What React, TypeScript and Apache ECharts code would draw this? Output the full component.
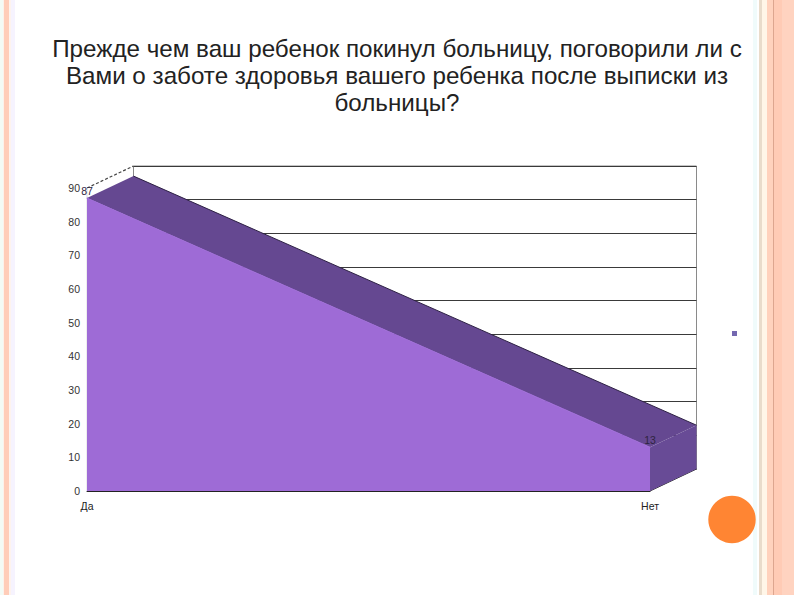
import React, { useEffect, useRef } from "react";
import * as echarts from "echarts";

const titleLines = [
  "Прежде чем ваш ребенок покинул больницу, поговорили ли с",
  "Вами о заботе здоровья вашего ребенка после выписки из",
  "больницы?",
];
const categories = ["Да", "Нет"];
const values = [87, 13];
const axisMax = 90;
const axisStep = 10;

const W = 794;
const H = 595;
const front = { left: 87, right: 650, top: 188, bottom: 491 };
const depth = { x: 46.5, y: -22 };

const stripes: [number, number, string][] = [
  [0, 3, "#F3FBF6"],
  [3, 4, "#FDF1EA"],
  [4, 9, "#FFCDB9"],
  [9, 11, "#FDF3EE"],
  [11, 15, "#F6F3FE"],
  [753, 757, "#F0FBFB"],
  [759, 762, "#E9DCCB"],
  [762, 767, "#FFF6E8"],
  [767, 773, "#FFD2BD"],
  [773, 774, "#DDA68F"],
  [774, 782, "#FFCBB5"],
  [782, 794, "#FFD3C0"],
];

const fontFamily = "'Liberation Sans', Arial, sans-serif";

function baseAxis(gridIndex: number, show: boolean) {
  return {
    gridIndex,
    type: "category" as const,
    data: categories,
    boundaryGap: false,
    axisTick: { show: false },
    axisLine: show ? { lineStyle: { color: "#222", width: 1 } } : { show: false },
    axisLabel: show ? { color: "#222", fontSize: 10.5, fontFamily, margin: 9 } : { show: false },
    splitLine: { show: false },
  };
}

export default function App() {
  const ref = useRef<HTMLDivElement>(null);
  useEffect(() => {
    const chart = echarts.init(ref.current!, null, { renderer: "svg", width: W, height: H });
    const bandSegments = values.slice(0, -1).map((_, i) => [i, i + 1]);
    chart.setOption({
      animation: false,
      backgroundColor: "#fff",
      title: {
        text: titleLines.join("\n"),
        left: 397,
        top: 35,
        textAlign: "center",
        padding: 0,
        textStyle: {
          color: "#222",
          fontSize: 24.2,
          fontWeight: "normal",
          fontFamily,
          lineHeight: 27,
        },
      },
      grid: [
        {
          left: front.left,
          top: front.top,
          width: front.right - front.left,
          height: front.bottom - front.top,
        },
        {
          left: front.left + depth.x,
          top: front.top + depth.y,
          width: front.right - front.left,
          height: front.bottom - front.top,
          show: true,
          borderColor: "#8a8a8a",
          borderWidth: 1,
          backgroundColor: "transparent",
        },
      ],
      xAxis: [baseAxis(0, true), baseAxis(1, false)],
      yAxis: [
        {
          gridIndex: 0,
          type: "value",
          min: 0,
          max: axisMax,
          interval: axisStep,
          axisLine: { show: false },
          axisTick: { show: false },
          axisLabel: { color: "#333", fontSize: 10.5, fontFamily, margin: 7 },
          splitLine: { show: false },
        },
        {
          gridIndex: 1,
          type: "value",
          min: 0,
          max: axisMax,
          interval: axisStep,
          axisLine: { show: false },
          axisTick: { show: false },
          axisLabel: { show: false },
          splitLine: { show: true, lineStyle: { color: "#3a3a3a", width: 1 } },
        },
      ],
      series: [
        {
          type: "custom",
          xAxisIndex: 0,
          yAxisIndex: 0,
          z: 3,
          silent: true,
          data: [[0]],
          renderItem: (_: any, api: any) => {
            const a = api.coord([0, axisMax]);
            const b = api.coord([0, 0]);
            const c = api.coord([1, 0]);
            return {
              type: "group",
              children: [
                {
                  type: "line",
                  shape: { x1: a[0], y1: a[1], x2: a[0] + depth.x, y2: a[1] + depth.y },
                  style: { stroke: "#444", lineWidth: 1.2, lineDash: [3, 2] },
                },
                {
                  type: "line",
                  shape: { x1: c[0], y1: c[1], x2: c[0] + depth.x, y2: c[1] + depth.y },
                  style: { stroke: "#222", lineWidth: 1 },
                },
                {
                  type: "line",
                  shape: { x1: b[0], y1: b[1], x2: b[0], y2: a[1] },
                  style: { stroke: "#ddd", lineWidth: 1 },
                },
              ],
            };
          },
        },
        {
          type: "custom",
          xAxisIndex: 0,
          yAxisIndex: 0,
          z: 4,
          silent: true,
          data: bandSegments,
          encode: { x: [0, 1] },
          renderItem: (_: any, api: any) => {
            const i0 = api.value(0);
            const i1 = api.value(1);
            const p0 = api.coord([i0, values[i0]]);
            const p1 = api.coord([i1, values[i1]]);
            const base = api.coord([i1, 0]);
            const shift = (p: number[]) => [p[0] + depth.x, p[1] + depth.y];
            return {
              type: "group",
              children: [
                {
                  type: "polygon",
                  shape: { points: [p1, shift(p1), shift(base), base] },
                  style: { fill: "#684B96" },
                },
                {
                  type: "polygon",
                  shape: { points: [p0, shift(p0), shift(p1), p1] },
                  style: { fill: "#654891" },
                },
                {
                  type: "line",
                  shape: {
                    x1: shift(p0)[0],
                    y1: shift(p0)[1],
                    x2: shift(p1)[0],
                    y2: shift(p1)[1],
                  },
                  style: { stroke: "#2e2145", lineWidth: 1 },
                },
              ],
            };
          },
        },
        {
          type: "line",
          xAxisIndex: 0,
          yAxisIndex: 0,
          z: 5,
          data: values,
          showSymbol: true,
          symbol: "circle",
          symbolSize: 1,
          lineStyle: { color: "#9E6BD6", width: 1 },
          itemStyle: { color: "#9E6BD6" },
          areaStyle: { color: "#9E6BD6", opacity: 1 },
          label: {
            show: true,
            position: "top",
            distance: 1,
            color: "#2f2440",
            fontSize: 10.5,
            fontFamily,
          },
        },
      ],
      graphic: [
        ...stripes.map(([x0, x1, fill]) => ({
          type: "rect",
          silent: true,
          shape: { x: x0, y: 0, width: x1 - x0, height: H },
          style: { fill },
        })),
        {
          type: "circle",
          shape: { cx: 732, cy: 519.5, r: 23.7 },
          style: { fill: "#FF8533" },
        },
        {
          type: "rect",
          shape: { x: 732, y: 331, width: 5, height: 5 },
          style: { fill: "#7468B0" },
        },
      ],
    });
    return () => chart.dispose();
  }, []);
  return (
    <div
      ref={ref}
      style={{ position: "fixed", left: 0, top: 0, width: W, height: H }}
    />
  );
}
